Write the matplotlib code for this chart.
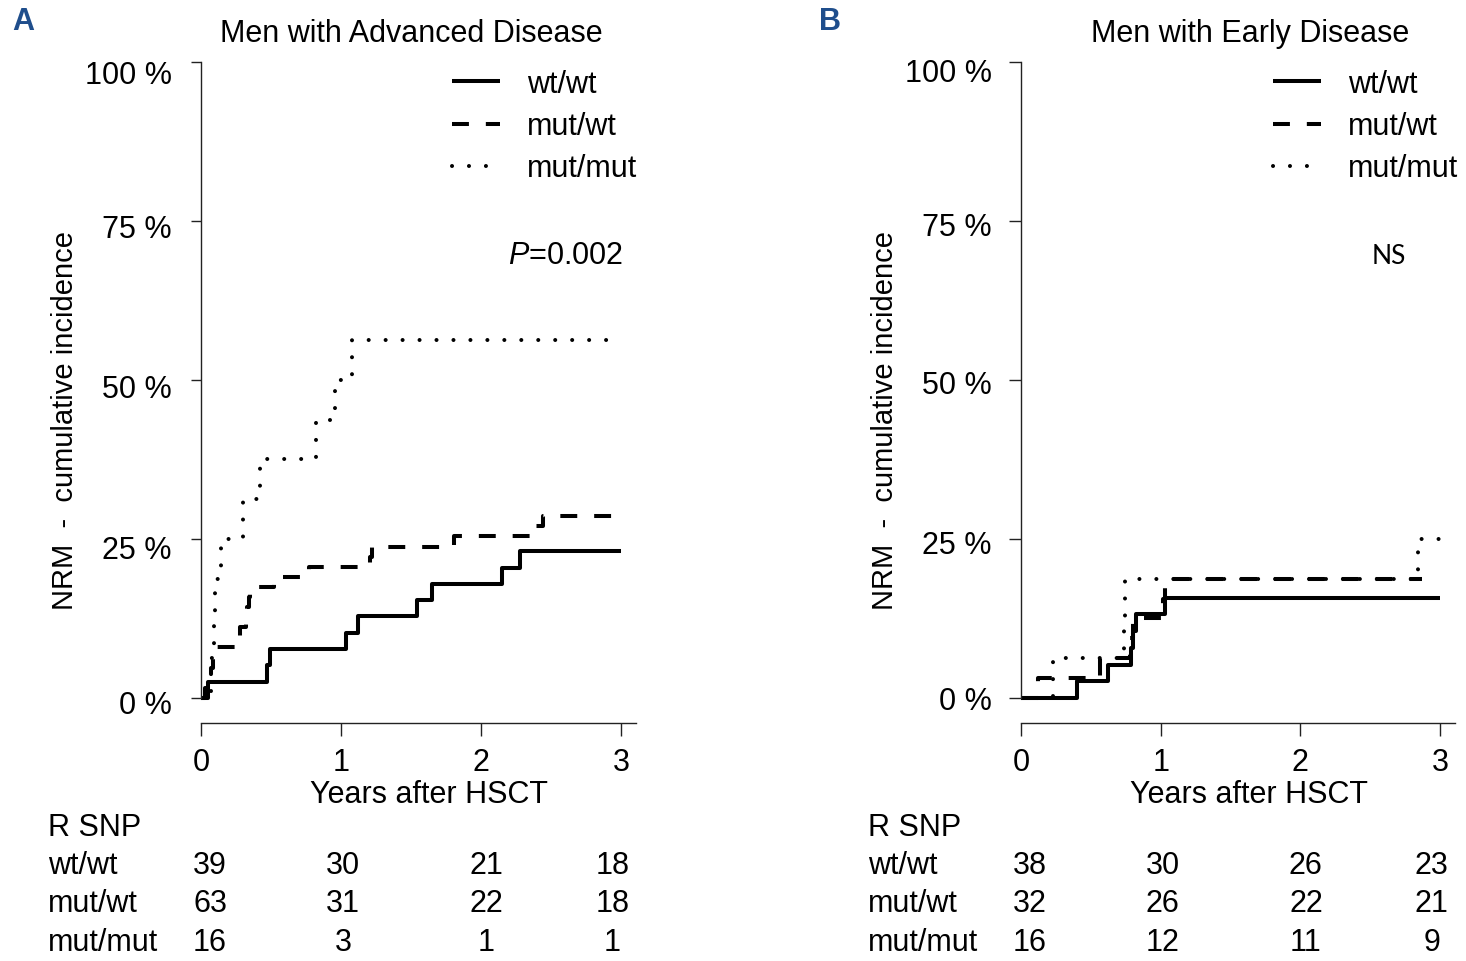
import numpy as np
import matplotlib
matplotlib.use('Agg')
import matplotlib.pyplot as plt
from matplotlib.transforms import blended_transform_factory, ScaledTranslation

plt.rcParams['font.family'] = ['Liberation Sans', 'DejaVu Sans']
plt.rcParams['mathtext.fontset'] = 'custom'
plt.rcParams['mathtext.it'] = 'Liberation Sans:italic'
plt.rcParams['mathtext.rm'] = 'Liberation Sans'

groups = ['wt/wt', 'mut/wt', 'mut/mut']
risk_times = [0.065, 1.015, 2.04, 2.94]   # where the at-risk numbers sit
x_ticks = [0, 1, 2, 3]
y_ticks = [0, 25, 50, 75, 100]
y_ticklabels = ['0 %', '25 %', '50 %', '75 %', '100 %']

# panel A - advanced disease (cumulative incidence, %)
adv_wt_t = [0, 0.05, 0.47, 0.49, 1.035, 1.12, 1.545, 1.65, 2.15, 2.28, 3.0]
adv_wt_y = [0, 2.56, 5.13, 7.69, 10.26, 12.82, 15.38, 17.95, 20.51, 23.08, 23.08]
adv_mw_t = [0, 0.03, 0.05, 0.07, 0.085, 0.095, 0.27, 0.28, 0.32, 0.325, 0.34,
            0.35, 0.52, 0.77, 1.21, 1.22, 1.81, 2.39, 2.44, 3.0]
adv_mw_y = [0, 1.59, 3.17, 4.76, 6.35, 7.94, 9.52, 11.11, 12.70, 14.29, 15.87,
            17.46, 19.05, 20.63, 22.22, 23.81, 25.40, 26.98, 28.57, 28.57]
adv_mm_t = [0, 0.07, 0.095, 0.10, 0.14, 0.30, 0.42, 0.82, 0.96, 1.08, 3.0]
adv_mm_y = [0, 6.25, 12.5, 18.75, 25.0, 31.25, 37.5, 43.75, 50.0, 56.25, 56.25]

adv_risk_wt = [39, 30, 21, 18]
adv_risk_mw = [63, 31, 22, 18]
adv_risk_mm = [16, 3, 1, 1]

# panel B - early disease
early_wt_t = [0, 0.40, 0.62, 0.79, 0.80, 0.82, 1.03, 3.0]
early_wt_y = [0, 2.63, 5.26, 7.89, 10.53, 13.16, 15.79, 15.79]
early_mw_t = [0, 0.12, 0.565, 0.78, 0.80, 1.02, 1.03, 2.87]
early_mw_y = [0, 3.125, 6.25, 9.375, 12.5, 15.625, 18.75, 18.75]
early_mm_t = [0, 0.23, 0.74, 0.745, 2.84, 3.0]
early_mm_y = [0, 6.25, 12.5, 18.75, 25.0, 25.0]

early_risk_wt = [38, 30, 26, 23]
early_risk_mw = [32, 26, 22, 21]
early_risk_mm = [16, 12, 11, 9]

W, H = 1466, 962
fig = plt.figure(figsize=(W / 100, H / 100), dpi=100)


def fx(px):
    return px / W


def fy(py):
    return 1 - py / H


line_styles = [dict(linestyle='-', solid_capstyle='butt'),
               dict(linestyle=(0, (4.2, 4.2)), dash_capstyle='butt'),
               dict(linestyle=(0, (0.01, 4.2)), dash_capstyle='round')]


def panel(left, right, x3, curves, risks, title, title_x, letter, letter_x,
          leg_x, note, note_x, note_kw, ylab_shift, ytick_len):
    xmax = 3 * (right - left) / (x3 - left)
    top, bottom = 37.6, 724.4
    ax = fig.add_axes([fx(left), fy(bottom), (right - left) / W, (bottom - top) / H])
    ax.set_xlim(0, xmax)
    ax.set_ylim(-4, 104)

    handles = []
    for (t, y), st in zip(curves, line_styles):
        h, = ax.step(t, y, where='post', color='black', lw=2.9, **st)
        handles.append(h)

    for s in ['top', 'right']:
        ax.spines[s].set_visible(False)
    ax.spines['left'].set_bounds(0, 100)
    for s in ['left', 'bottom']:
        ax.spines[s].set_linewidth(1.0)
        ax.spines[s].set_color('#222222')

    ax.set_xticks(x_ticks)
    ax.set_yticks(y_ticks)
    ax.set_yticklabels(y_ticklabels)
    ax.tick_params(axis='y', length=ytick_len, width=1, pad=21 - ytick_len, labelsize=22,
                   colors='#222222', labelcolor='black')
    ax.tick_params(axis='x', length=9, width=1, pad=8, labelsize=22,
                   colors='#222222', labelcolor='black')
    # y labels sit a little below their ticks in the original
    for lab, dy in zip(ax.get_yticklabels(), ylab_shift):
        lab.set_transform(lab.get_transform() + ScaledTranslation(0, -dy / 100, fig.dpi_scale_trans))

    fig.text(fx(title_x), fy(34), title, ha='center', va='center', fontsize=22)
    fig.text(fx(letter_x), fy(22), letter, ha='center', va='center', fontsize=22,
             fontweight='bold', color='#1f4e8c',
             family=['Liberation Sans Narrow', 'Liberation Sans', 'DejaVu Sans'])
    fig.text(fx(left - 136), fy(420), 'NRM  -  cumulative incidence', rotation=90,
             ha='center', va='center', fontsize=21)
    fig.text(fx(left + 228), fy(795), 'Years after HSCT', ha='center', va='center', fontsize=22)

    ax.legend(handles, groups, loc='upper left', bbox_to_anchor=(fx(leg_x), fy(70)),
              bbox_transform=fig.transFigure, frameon=False, fontsize=22,
              handlelength=48 / 30.56, handletextpad=27 / 30.56, labelspacing=0.4,
              borderpad=0, borderaxespad=0)

    fig.text(fx(note_x), fy(256), note, ha='center', va='center', **note_kw)

    trans = blended_transform_factory(ax.transData, fig.transFigure)
    row_x = -153 * xmax / (right - left)
    ax.text(row_x, fy(828), 'R SNP', transform=trans, ha='left', va='center', fontsize=22)
    for g, counts, py in zip(groups, risks, [866, 904, 943]):
        ax.text(row_x, fy(py), g, transform=trans, ha='left', va='center', fontsize=22)
        for xt, n in zip(risk_times, counts):
            ax.text(xt, fy(py), str(n), transform=trans, ha='center', va='center', fontsize=22)
    return ax


panel(201, 636, 621,
      [(adv_wt_t, adv_wt_y), (adv_mw_t, adv_mw_y), (adv_mm_t, adv_mm_y)],
      [adv_risk_wt, adv_risk_mw, adv_risk_mm],
      'Men with Advanced Disease', 411, 'A', 23, 452,
      r'$P$=0.002', 565, dict(fontsize=22), [4, 8, 6, 4, 9], 7)

panel(1021, 1455, 1440,
      [(early_wt_t, early_wt_y), (early_mw_t, early_mw_y), (early_mm_t, early_mm_y)],
      [early_risk_wt, early_risk_mw, early_risk_mm],
      'Men with Early Disease', 1250, 'B', 830, 1273,
      'NS', 1389, dict(fontsize=19, family=['Lato', 'DejaVu Sans']), [0, 3, 2, 2, 7], 9)

fig.savefig('out.png', dpi=100)
